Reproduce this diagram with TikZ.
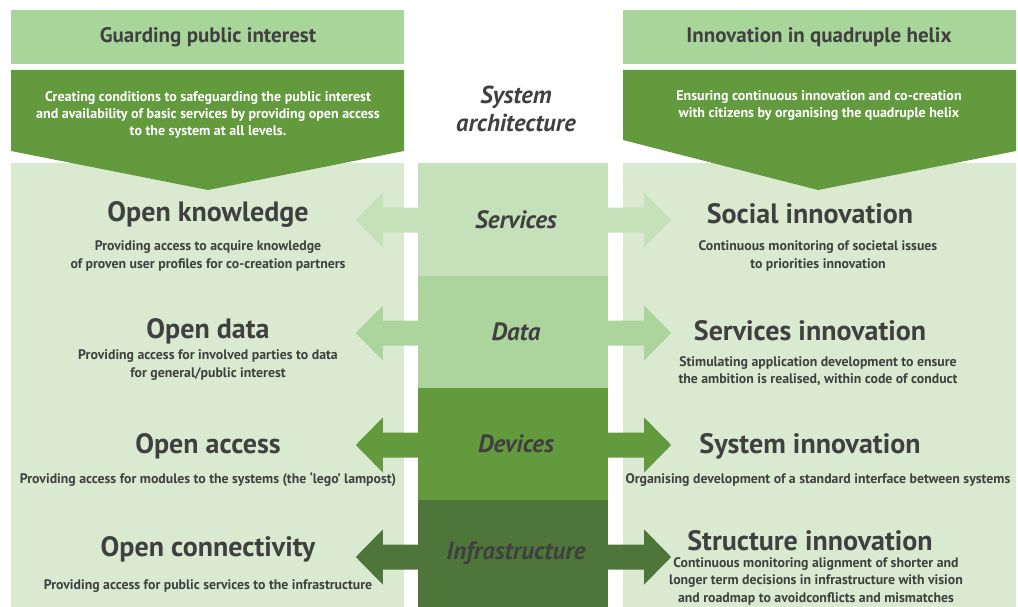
\documentclass[tikz,border=0pt]{standalone}
\usepackage{fontspec}
\setmainfont{PT Sans}

\definecolor{headgreen}{HTML}{A8D59A}
\definecolor{darkgreen}{HTML}{639A3E}
\definecolor{panelgreen}{HTML}{D9EAD0}
\definecolor{servgreen}{HTML}{C5E1B9}
\definecolor{datagreen}{HTML}{ABD59C}
\definecolor{infragreen}{HTML}{4E763B}
\definecolor{txt}{HTML}{404040}

\tikzset{
    head/.style={text=txt, font=\bfseries\fontsize{21}{24}\selectfont},
    intro/.style={text=white, align=center, font=\bfseries\fontsize{14}{17}\selectfont},
    layer/.style={minimum width=190pt, minimum height=112pt, inner sep=0pt, text=txt,
        font=\bfseries\itshape\fontsize{25}{28}\selectfont},
    title/.style={text=txt, font=\bfseries\fontsize{28}{32}\selectfont},
    sub/.style={text=txt, align=center, font=\bfseries\fontsize{13.8}{17.5}\selectfont}
}

\begin{document}
\begin{tikzpicture}[x=1pt, y=-1pt]
    \useasboundingbox (0,0) rectangle (1018,607);

    % side panels
    \fill[panelgreen] (11,163) rectangle (404,607);
    \fill[panelgreen] (623,163) rectangle (1016,607);

    % headers
    \fill[headgreen] (11,10) rectangle (404,64);
    \fill[headgreen] (623,10) rectangle (1016,64);
    \node[head] (h1) at (208,37) {Guarding public interest};
    \node[head] (h2) at (819,37) {Innovation in quadruple helix};

    % intro chevrons
    \fill[darkgreen] (11,70) -- (404,70) -- (404,151) -- (208,190) -- (11,151) -- cycle;
    \fill[darkgreen] (623,70) -- (1016,70) -- (1016,151) -- (818,190) -- (623,140) -- cycle;
    \node[intro] (i1) at (208,115) {Creating conditions to safeguarding the public interest\\
        and availability of basic services by providing open access\\
        to the system at all levels.};
    \node[intro] (i2) at (819,106) {Ensuring continuous innovation and co-creation\\
        with citizens by organising the quadruple helix};

    \node[text=txt, align=center, font=\bfseries\itshape\fontsize{24.5}{28}\selectfont] (sa) at (516,109)
        {System\\architecture};

    % layers of the system
    \node[layer, fill=servgreen] (1) at (513,219.5) {\hspace{6pt}Services};
    \node[layer, fill=datagreen] (2) at (513,332) {\hspace{6pt}Data};
    \node[layer, fill=darkgreen] (3) at (513,444) {\hspace{6pt}Devices};
    \node[layer, fill=infragreen, minimum height=107pt] (4) at (513,553.5) {\hspace{6pt}Infrastructure};

    % arrows out of each layer
    \foreach \n/\y/\c in {1/220/servgreen, 2/333/datagreen, 3/445/darkgreen, 4/557/infragreen} {
        \fill[\c] (1.west |- 0,\y) ++(0,-12.5) -- ++(-35,0) -- ++(0,-15) -- ++(-27,27.5)
            -- ++(27,27.5) -- ++(0,-15) -- ++(35,0) -- cycle;
        \fill[\c] (1.east |- 0,\y) ++(0,-12.5) -- ++(36,0) -- ++(0,-15) -- ++(27,27.5)
            -- ++(-27,27.5) -- ++(0,-15) -- ++(-36,0) -- cycle;
    }

    % left column
    \node[title] (5) at (208,214) {Open knowledge};
    \node[sub] (6) at (208,256) {Providing access to acquire knowledge\\of proven user profiles for co-creation partners};
    \node[title] (7) at (208,331) {Open data};
    \node[sub] (8) at (208,365) {Providing access for involved parties to data\\for general/public interest};
    \node[title] (9) at (208,446) {Open access};
    \node[sub] (10) at (208,480) {Providing access for modules to the systems (the ‘lego’ lampost)};
    \node[title] (11) at (208,549) {Open connectivity};
    \node[sub] (12) at (208,586) {Providing access for public services to the infrastructure};

    % right column
    \node[title] (13) at (810,214) {Social innovation};
    \node[sub] (14) at (818,256) {Continuous monitoring of societal issues\\to priorities innovation};
    \node[title] (15) at (810,331) {Services innovation};
    \node[sub] (16) at (818,371) {Stimulating application development to ensure\\the ambition is realised, within code of conduct};
    \node[title] (17) at (810,446) {System innovation};
    \node[sub] (18) at (818,480) {Organising development of a standard interface between systems};
    \node[title] (19) at (810,541) {Structure innovation};
    \node[sub] (20) at (816,581) {Continuous monitoring alignment of shorter and\\longer term decisions in infrastructure with vision\\and roadmap to avoidconflicts and mismatches};
\end{tikzpicture}
\end{document}
